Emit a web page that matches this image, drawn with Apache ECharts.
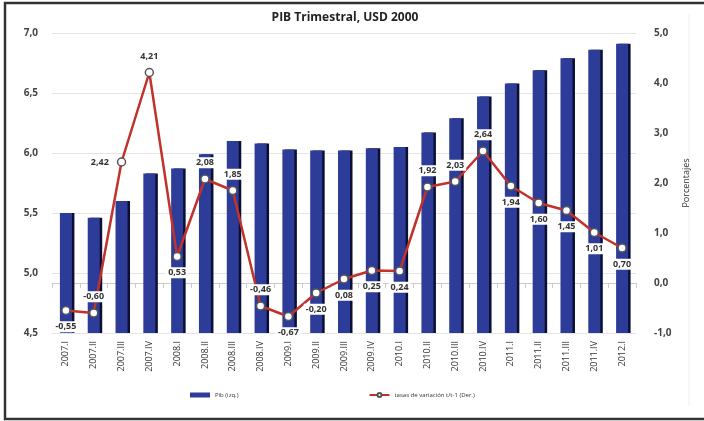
<!DOCTYPE html>
<html><head><meta charset="utf-8">
<script src="https://cdn.jsdelivr.net/npm/echarts@6/dist/echarts.min.js"></script>
<style>html,body{margin:0;padding:0;background:#fff}#c{width:704px;height:421px}</style>
</head><body><div id="c"></div>
<script>
const categories = ['2007.I','2007.II','2007.III','2007.IV','2008.I','2008.II','2008.III','2008.IV','2009.I','2009.II','2009.III','2009.IV','2010.I','2010.II','2010.III','2010.IV','2011.I','2011.II','2011.III','2011.IV','2012.I'];
const pib = [5.50,5.46,5.60,5.83,5.87,5.99,6.10,6.08,6.03,6.02,6.02,6.04,6.05,6.17,6.29,6.47,6.58,6.69,6.79,6.86,6.91];
const tasas = [-0.55,-0.60,2.42,4.21,0.53,2.08,1.85,-0.46,-0.67,-0.20,0.08,0.25,0.24,1.92,2.03,2.64,1.94,1.60,1.45,1.01,0.70];
const leftTicks = [4.5,5.0,5.5,6.0,6.5,7.0];
const rightTicks = [-1,0,1,2,3,4,5];
const labelPos = ['bottom','top','left','top','bottom','top','top','top','bottom','bottom','bottom','bottom','bottom','top','top','top','bottom','bottom','bottom','bottom','bottom'];

const fmt = v => v.toFixed(1).replace('.', ',');
const FONT = 'Open Sans';
const chart = echarts.init(document.getElementById('c'));
chart.setOption({
  animation: false,
  textStyle: {fontFamily: FONT},
  title: {text: 'PIB Trimestral, USD 2000', left: 340, top: 7, textAlign: 'center',
    textStyle: {fontSize: 12, fontWeight: 'bold', color: '#222', fontFamily: FONT}},
  graphic: [{type: 'rect', shape: {x: 5, y: 3, width: 705, height: 416}, silent: true,
    style: {fill: 'none', stroke: '#333', lineWidth: 2.5}},
    {type: 'line', shape: {x1: 689, y1: 14, x2: 689, y2: 406}, silent: true, style: {stroke: '#eee', lineWidth: 1}}],
  legend: {bottom: 18, left: 185, itemGap: 130, itemWidth: 20, itemHeight: 5,
    textStyle: {fontSize: 6, color: '#333', fontFamily: FONT},
    data: [{name: 'Pib (izq.)', icon: 'rect'}, {name: 'tasas de variación t/t-1 (Der.)'}]},
  grid: {left: 52, right: 68, top: 33, bottom: 88},
  xAxis: {type: 'category', data: categories,
    axisLine: {lineStyle: {color: '#ccc'}}, axisTick: {show: true, alignWithLabel: false, lineStyle: {color: '#ccc'}},
    axisLabel: {rotate: 90, fontSize: 9, color: '#333', margin: 8, interval: 0}},
  yAxis: [
    {type: 'value', min: 4.5, max: 7, interval: 0.5,
      axisLabel: {formatter: v => leftTicks.includes(Math.round(v*10)/10) ? fmt(v) : '', fontSize: 10, fontWeight: 'bold', color: '#444', margin: 14},
      splitLine: {lineStyle: {color: '#e4e4e4'}}, axisLine: {show: false}, axisTick: {show: false}},
    {type: 'value', min: -1, max: 5, interval: 1, position: 'right',
      name: 'Porcentajes', nameLocation: 'middle', nameRotate: 90, nameGap: 38,
      nameTextStyle: {fontSize: 9, color: '#333'},
      axisLabel: {formatter: v => rightTicks.includes(v) ? fmt(v) : '', fontSize: 10, fontWeight: 'bold', color: '#444', margin: 18},
      splitLine: {show: false}, axisLine: {show: false}, axisTick: {show: false}}
  ],
  series: [
    {name: 'Pib (izq.)', type: 'bar', data: pib, barWidth: 12, yAxisIndex: 0,
      itemStyle: {color: '#2E3C99', shadowColor: '#0b1033', shadowOffsetX: 2.5, shadowOffsetY: 0, shadowBlur: 0}},
    {name: 'tasas de variación t/t-1 (Der.)', type: 'line', yAxisIndex: 1,
      data: tasas.map((v, i) => ({value: v, label: {position: labelPos[i]}})),
      symbol: 'circle', symbolSize: 8,
      lineStyle: {color: '#C0322A', width: 2.5},
      itemStyle: {color: '#fff', borderColor: '#555', borderWidth: 1.5},
      label: {show: true, formatter: p => p.value.toFixed(2).replace('.', ','), fontSize: 9, fontWeight: 'bold',
        color: '#333', backgroundColor: '#fff', padding: [1, 2], distance: 6}}
  ]
});
</script></body></html>
